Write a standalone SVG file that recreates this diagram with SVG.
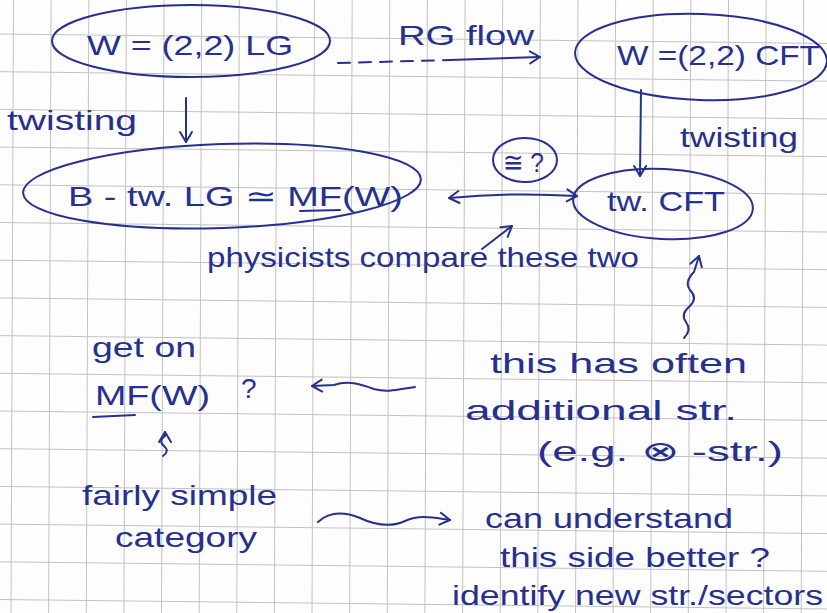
<svg xmlns="http://www.w3.org/2000/svg" width="827" height="613" viewBox="0 0 827 613">
<style>
.g line{stroke:#c2c2c2;stroke-width:1}
.ink{fill:none;stroke:#26308f;stroke-width:2;stroke-linecap:round;stroke-linejoin:round}
.t{font-family:"Liberation Sans","DejaVu Sans",sans-serif;fill:#26308f;font-size:28px}
</style>
<defs>
<marker id="ah" viewBox="-12 -8 14 16" refX="0" refY="0" markerWidth="14" markerHeight="16" markerUnits="userSpaceOnUse" orient="auto-start-reverse">
<path d="M-10,-6 L0,0 L-10,6" fill="none" stroke="#26308f" stroke-width="2" stroke-linecap="round" stroke-linejoin="round"/>
</marker>
</defs>
<rect width="827" height="613" fill="#fdfdfd"/>
<g class="g" id="grid">
<line x1="13.5" y1="0" x2="11" y2="613"/><line x1="51.1" y1="0" x2="48.6" y2="613"/><line x1="88.8" y1="0" x2="86.3" y2="613"/><line x1="126.4" y1="0" x2="123.9" y2="613"/><line x1="164" y1="0" x2="161.5" y2="613"/><line x1="201.7" y1="0" x2="199.2" y2="613"/><line x1="239.3" y1="0" x2="236.8" y2="613"/><line x1="276.9" y1="0" x2="274.4" y2="613"/><line x1="314.5" y1="0" x2="312" y2="613"/><line x1="352.2" y1="0" x2="349.7" y2="613"/><line x1="389.8" y1="0" x2="387.3" y2="613"/><line x1="427.4" y1="0" x2="424.9" y2="613"/><line x1="465.1" y1="0" x2="462.6" y2="613"/><line x1="502.7" y1="0" x2="500.2" y2="613"/><line x1="540.3" y1="0" x2="537.8" y2="613"/><line x1="578" y1="0" x2="575.5" y2="613"/><line x1="615.6" y1="0" x2="613.1" y2="613"/><line x1="653.2" y1="0" x2="650.7" y2="613"/><line x1="690.8" y1="0" x2="688.3" y2="613"/><line x1="728.5" y1="0" x2="726" y2="613"/><line x1="766.1" y1="0" x2="763.6" y2="613"/><line x1="803.7" y1="0" x2="801.2" y2="613"/>
<line x1="0" y1="34" x2="827" y2="43.5"/><line x1="0" y1="71.7" x2="827" y2="81.2"/><line x1="0" y1="109.4" x2="827" y2="118.9"/><line x1="0" y1="147.1" x2="827" y2="156.6"/><line x1="0" y1="184.8" x2="827" y2="194.3"/><line x1="0" y1="222.5" x2="827" y2="232"/><line x1="0" y1="260.2" x2="827" y2="269.7"/><line x1="0" y1="297.9" x2="827" y2="307.4"/><line x1="0" y1="335.6" x2="827" y2="345.1"/><line x1="0" y1="373.3" x2="827" y2="382.8"/><line x1="0" y1="411" x2="827" y2="420.5"/><line x1="0" y1="448.7" x2="827" y2="458.2"/><line x1="0" y1="486.4" x2="827" y2="495.9"/><line x1="0" y1="524.1" x2="827" y2="533.6"/><line x1="0" y1="561.8" x2="827" y2="571.3"/><line x1="0" y1="599.5" x2="827" y2="609"/>
</g>
<g id="n-lg">
<ellipse class="ink" cx="191" cy="41" rx="139" ry="36"/>
<text class="t" x="87" y="55" font-size="30" textLength="206" lengthAdjust="spacingAndGlyphs">W = (2,2) LG</text>
</g>
<g id="n-cft">
<ellipse class="ink" cx="701" cy="57" rx="126" ry="43" transform="rotate(2 701 57)"/>
<text class="t" x="617" y="65" font-size="32" textLength="203" lengthAdjust="spacingAndGlyphs">W =(2,2) CFT</text>
</g>
<g id="n-mf">
<ellipse class="ink" cx="222" cy="186" rx="199" ry="42" transform="rotate(-2 222 186)"/>
<text class="t" x="68" y="206" font-size="30" textLength="335" lengthAdjust="spacingAndGlyphs">B - tw. LG ≃ MF(W)</text>
<line class="ink" x1="300" y1="211" x2="340" y2="210"/>
</g>
<g id="n-twcft">
<ellipse class="ink" cx="663" cy="204" rx="90" ry="35" transform="rotate(3 663 204)"/>
<text class="t" x="607" y="211" font-size="30" textLength="118" lengthAdjust="spacingAndGlyphs">tw. CFT</text>
</g>
<g id="n-iso">
<ellipse class="ink" cx="525" cy="160" rx="32" ry="22"/>
<text class="t" x="503" y="172" font-size="26" textLength="41" lengthAdjust="spacingAndGlyphs">≅ ?</text>
</g>
<g id="connectors">
<path class="ink" d="M338,63 L450,60" stroke-dasharray="12 9"/>
<path class="ink" d="M450,60 L540,57" marker-end="url(#ah)"/>
<path class="ink" d="M186,98 L186,142" marker-end="url(#ah)"/>
<path class="ink" d="M641,90 L640,176" marker-end="url(#ah)"/>
<path class="ink" d="M449,198 Q510,192 577,196" marker-start="url(#ah)" marker-end="url(#ah)" stroke-width="2.4"/>
<path class="ink" d="M482,249 L512,226" marker-end="url(#ah)"/>
<path class="ink" d="M684,338 Q692,330 686,322 Q680,314 690,306 Q698,298 690,290 Q684,282 694,272 L699,256" marker-end="url(#ah)"/>
<path class="ink" d="M415,387 C400,389 388,393 374,389 C360,384 348,380 334,385 L312,386" marker-end="url(#ah)"/>
<path class="ink" d="M163,456 Q170,451 164,446 Q158,441 165,436 L165,432" marker-end="url(#ah)"/>
<path class="ink" d="M318,522 C330,511 345,512 360,518 C375,525 390,528 405,521 C420,514 435,518 450,520" marker-end="url(#ah)"/>
</g>
<g id="labels">
<text class="t" x="398" y="45" font-size="26" textLength="136" lengthAdjust="spacingAndGlyphs">RG flow</text>
<text class="t" x="7" y="130" textLength="130" lengthAdjust="spacingAndGlyphs">twisting</text>
<text class="t" x="680" y="147" textLength="118" lengthAdjust="spacingAndGlyphs">twisting</text>
<text class="t" x="207" y="267" font-size="26" textLength="432" lengthAdjust="spacingAndGlyphs">physicists compare these two</text>
<text class="t" x="490" y="373" textLength="257" lengthAdjust="spacingAndGlyphs">this has often</text>
<text class="t" x="465" y="420" textLength="272" lengthAdjust="spacingAndGlyphs">additional str.</text>
<text class="t" x="537" y="461" textLength="246" lengthAdjust="spacingAndGlyphs">(e.g. ⊗ -str.)</text>
<text class="t" x="92" y="357" textLength="104" lengthAdjust="spacingAndGlyphs">get on</text>
<text class="t" x="95" y="405" font-size="30" textLength="115" lengthAdjust="spacingAndGlyphs">MF(W)</text>
<line class="ink" x1="93" y1="417" x2="135" y2="415"/>
<text class="t" x="241" y="398">?</text>
<text class="t" x="82" y="505" textLength="195" lengthAdjust="spacingAndGlyphs">fairly simple</text>
<text class="t" x="115" y="547" textLength="142" lengthAdjust="spacingAndGlyphs">category</text>
<text class="t" x="485" y="528" textLength="248" lengthAdjust="spacingAndGlyphs">can understand</text>
<text class="t" x="500" y="567" textLength="270" lengthAdjust="spacingAndGlyphs">this side better ?</text>
<text class="t" x="452" y="605" textLength="371" lengthAdjust="spacingAndGlyphs">identify new str./sectors</text>
</g>
</svg>
